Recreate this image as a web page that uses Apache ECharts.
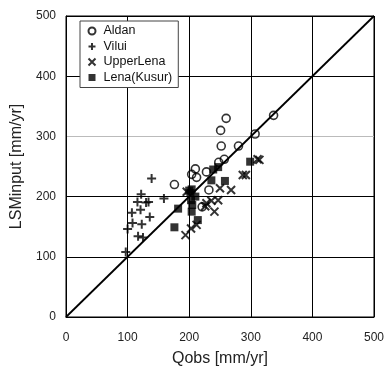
<!DOCTYPE html>
<html><head><meta charset="utf-8">
<script src="https://cdn.jsdelivr.net/npm/echarts@6/dist/echarts.min.js"></script>
<style>html,body{margin:0;padding:0;background:#fff}#c{width:387px;height:374px}</style>
</head><body><div id="c"></div>
<script>
var seriesNames = ['Aldan', 'Vilui', 'UpperLena', 'Lena(Kusur)'];
var aldan = [[260,330],[251,310],[252,284],[280,284],[307,304],[337,335],[257,262],[248,257],[228,241],[210,246],[204,237],[212,232],[176,220],[232,211],[221,183]];
var vilui = [[139,230],[122,204],[116,191],[130,190],[134,191],[159,197],[107,173],[121,178],[136,166],[108,156],[123,154],[100,146],[117,134],[125,132],[97,108]];
var upperLena = [[314,261],[311,262],[287,236],[292,236],[250,214],[268,211],[247,194],[236,193],[228,189],[226,184],[241,175],[203,147],[212,153],[194,136],[196,208]];
var lenaKusur = [[299,258],[239,245],[247,249],[236,227],[258,226],[204,212],[202,206],[210,200],[203,194],[205,186],[204,175],[214,161],[182,180],[176,149],[200,210]];
var oneToOne = [[0,0],[500,500]];
var ticks = [0,100,200,300,400,500];

var PLUS = 'path://M5,0 L5,10 M0,5 L10,5';
var CROSS = 'path://M0,0 L10,10 M10,0 L0,10';
var font = 'Liberation Sans, Arial, sans-serif';

var chart = echarts.init(document.getElementById('c'));
chart.setOption({
  animation: false,
  backgroundColor: '#fff',
  grid: {left: 66, right: 9, top: 16, bottom: 57, show: true, borderColor: '#000', borderWidth: 1},
  legend: {
    orient: 'vertical', left: 80, top: 21,
    data: seriesNames,
    borderColor: '#444', borderWidth: 1, backgroundColor: '#fff',
    padding: [3, 6, 3, 6], itemGap: 1.5, itemWidth: 7, itemHeight: 7,
    textStyle: {fontFamily: font, fontSize: 12.5, lineHeight: 14, color: '#111', padding: [0,0,0,3]}
  },
  xAxis: {
    type: 'value', min: ticks[0], max: ticks[ticks.length-1], interval: 100,
    name: 'Qobs [mm/yr]', nameLocation: 'middle', nameGap: 34,
    nameTextStyle: {fontFamily: font, fontSize: 16, color: '#222'},
    axisLine: {show: true, lineStyle: {color: '#000', width: 1}},
    axisTick: {show: false},
    axisLabel: {fontFamily: font, fontSize: 12, color: '#222', margin: 15},
    splitLine: {show: true, lineStyle: {color: '#000', width: 1}}
  },
  yAxis: {
    type: 'value', min: ticks[0], max: ticks[ticks.length-1], interval: 100,
    name: 'LSMinput [mm/yr]', nameLocation: 'middle', nameGap: 40,
    nameTextStyle: {fontFamily: font, fontSize: 16, color: '#222'},
    axisLine: {show: true, lineStyle: {color: '#000', width: 1}},
    axisTick: {show: false},
    axisLabel: {fontFamily: font, fontSize: 12, color: '#222', margin: 10},
    splitLine: {show: true, lineStyle: {color: ['#000','#000','#000','#bbbbbb','#000','#000'], width: 1}}
  },
  series: [
    {type: 'line', name: '1:1', data: oneToOne, symbol: 'none', lineStyle: {color: '#000', width: 1.8}, z: 1, silent: true},
    {type: 'scatter', name: seriesNames[0], data: aldan, symbol: 'circle', symbolSize: 8,
     itemStyle: {color: 'rgba(255,255,255,0)', borderColor: '#000', borderWidth: 1.6}, z: 3},
    {type: 'scatter', name: seriesNames[1], data: vilui, symbol: PLUS, symbolSize: 9,
     itemStyle: {color: 'none', borderColor: '#000', borderWidth: 2}, z: 3},
    {type: 'scatter', name: seriesNames[2], data: upperLena, symbol: CROSS, symbolSize: 8,
     itemStyle: {color: 'none', borderColor: '#000', borderWidth: 2}, z: 3},
    {type: 'scatter', name: seriesNames[3], data: lenaKusur, symbol: 'rect', symbolSize: 8,
     itemStyle: {color: '#000'}, z: 3}
  ]
});
</script></body></html>
